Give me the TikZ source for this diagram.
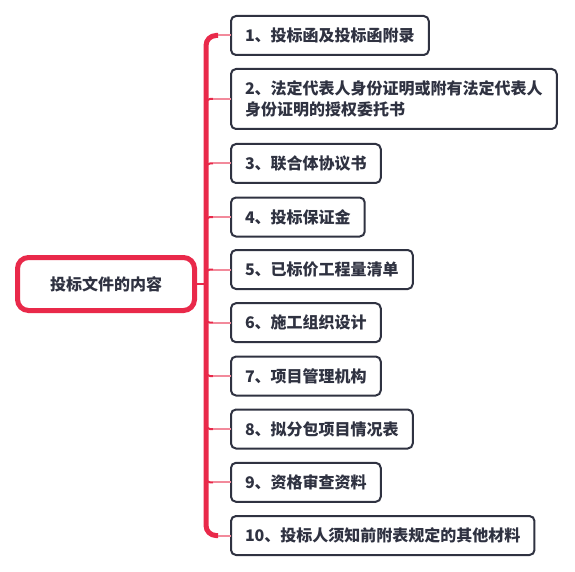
\documentclass[tikz,border=0pt]{standalone}
\usepackage{fontspec}
\newfontfamily\cjk{Noto Sans CJK SC}
\usetikzlibrary{positioning,calc}

\definecolor{rootred}{HTML}{E9294A}
\definecolor{twigpink}{HTML}{F28A9B}
\definecolor{boxgray}{HTML}{2F3241}

\begin{document}
\begin{tikzpicture}[x=1pt,y=-1pt,
    box/.style={draw=boxgray, line width=2pt, rounded corners=5pt, fill=white,
        text=boxgray, font=\cjk\bfseries\fontsize{16}{21}\selectfont, anchor=west,
        inner xsep=14pt, inner ysep=2pt, minimum height=39pt, align=left, outer sep=0pt},
    rootbox/.style={draw=rootred, line width=5pt, rounded corners=11pt, fill=white,
        text=boxgray, font=\cjk\bfseries\fontsize{16}{21}\selectfont,
        minimum width=177pt, minimum height=53pt, outer sep=0pt},
    trunk/.style={draw=rootred, line width=5pt, rounded corners=10pt},
    twig/.style={draw=rootred, line width=2pt, rounded corners=4pt},
    branch/.style={draw=twigpink, line width=2pt},
    stem/.style={draw=rootred, line width=1.2pt}]

    \useasboundingbox (0,0) rectangle (575,572);

    % 中心主题
    \node[rootbox] (root) at (106,284) {投标文件的内容};

    % 子主题
    \node[box] (c1) at (231,35.5) {1、投标函及投标函附录};
    \node[box, minimum height=60pt] (c2) at (231,99)
        {2、法定代表人身份证明或附有法定代表人\\身份证明的授权委托书};
    \node[box] (c3) at (231,163.5) {3、联合体协议书};
    \node[box] (c4) at (231,217) {4、投标保证金};
    \node[box] (c5) at (231,269.5) {5、已标价工程量清单};
    \node[box] (c6) at (231,322.7) {6、施工组织设计};
    \node[box] (c7) at (231,376) {7、项目管理机构};
    \node[box] (c8) at (231,429) {8、拟分包项目情况表};
    \node[box] (c9) at (231,482.3) {9、资格审查资料};
    \node[box] (c10) at (231,535.5) {10、投标人须知前附表规定的其他材料};

    % 连接线
    \coordinate (tk) at (206,284);
    \draw[stem] (root.east) -- (tk);
    \foreach \i/\s in {2/1,3/1,4/1,5/1,6/-1,7/-1,8/-1,9/-1}{
        \draw[twig] ($(tk |- c\i.west)+(0,\s*6)$) |- ($(tk |- c\i.west)+(7,0)$);
        \draw[branch] ($(tk |- c\i.west)+(7,0)$) -- (c\i.west);
    }
    \draw[trunk] ($(c1.west)+(-13,0)$) -| (tk) |- ($(c10.west)+(-13,0)$);
    \draw[branch] ($(c1.west)+(-13,0)$) -- (c1.west);
    \draw[branch] ($(c10.west)+(-13,0)$) -- (c10.west);

\end{tikzpicture}
\end{document}
